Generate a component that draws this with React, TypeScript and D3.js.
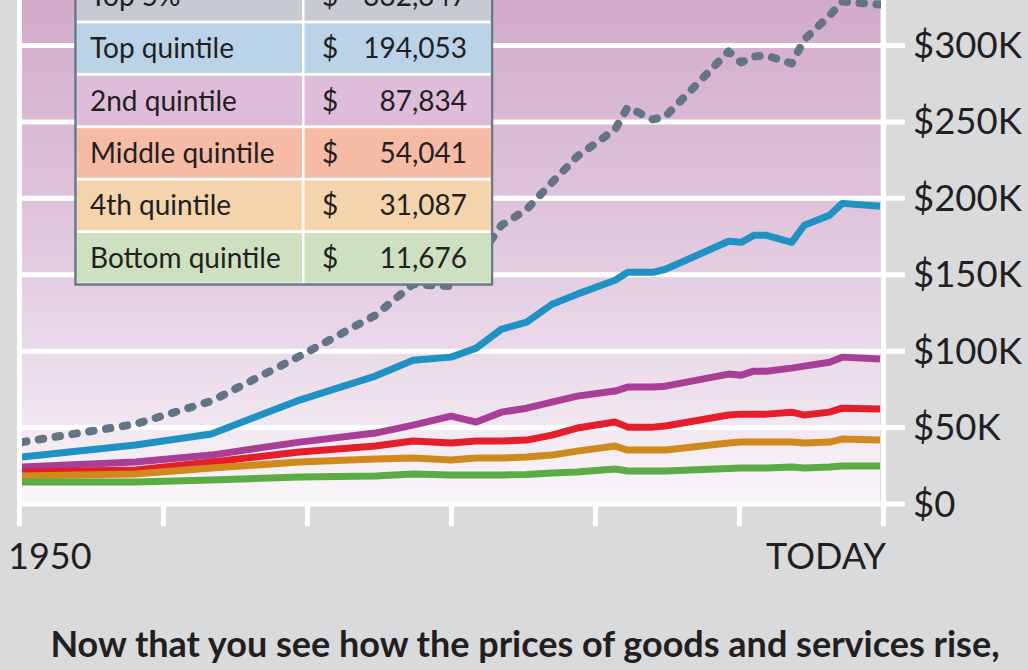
import React from "react";
import * as d3 from "d3";

// ---- data ----
const years = [1950, 1959, 1965, 1972, 1978, 1981, 1984, 1986, 1988, 1990, 1992, 1994, 1997, 1998, 2000, 2001, 2006, 2007, 2008, 2009, 2011, 2012, 2014, 2015, 2018];
const top5Pct = [40.5, 52.3, 67.3, 96.7, 123.5, 143.8, 142.5, 158.8, 182.4, 192.8, 210.4, 227.4, 245.1, 259.5, 251.6, 253.6, 296.1, 288.9, 292.8, 293.5, 288.2, 303.9, 319.6, 328.8, 326.8];
const topQuintile = [30.7, 38.6, 45.8, 68.0, 83.7, 94.1, 96.1, 102.0, 114.4, 119.0, 130.7, 137.3, 146.4, 151.6, 151.6, 153.6, 171.9, 171.2, 175.8, 175.8, 171.2, 182.4, 188.9, 196.7, 194.8];
const secondQuintile = [24.2, 27.5, 32.0, 40.5, 46.4, 51.6, 57.5, 53.6, 60.1, 62.7, 66.7, 70.6, 73.9, 76.5, 76.5, 77.1, 85.0, 84.3, 86.9, 86.9, 88.9, 90.2, 92.8, 96.1, 94.8];
const middleQuintile = [20.9, 22.2, 27.5, 34.0, 37.9, 41.2, 39.9, 41.2, 41.2, 41.8, 45.1, 49.7, 53.6, 50.3, 50.3, 51.0, 58.2, 58.8, 58.8, 58.8, 60.1, 58.2, 60.1, 62.7, 62.1];
const fourthQuintile = [18.3, 19.6, 23.5, 27.5, 29.4, 30.1, 28.8, 30.1, 30.1, 30.7, 32.0, 34.6, 37.9, 35.3, 35.3, 35.3, 39.9, 40.5, 40.5, 40.5, 40.5, 39.9, 40.5, 42.5, 41.8];
const bottomQuintile = [14.4, 14.4, 15.7, 17.6, 18.3, 19.6, 19.0, 19.0, 19.0, 19.3, 20.3, 20.9, 22.9, 21.6, 21.6, 21.6, 23.2, 23.5, 23.5, 23.5, 24.2, 23.5, 24.2, 24.8, 24.8];

const yTicks = [0, 50000, 100000, 150000, 200000, 250000, 300000];
const xTickLabels = ["1950", "", "", "", "", "", "TODAY"];

const tableLabels = ["Top 5%", "Top quintile", "2nd quintile", "Middle quintile", "4th quintile", "Bottom quintile"];
const tableValues = [332347, 194053, 87834, 54041, 31087, 11676];

const caption = "Now that you see how the prices of goods and services rise,";

// ---- styles ----
const seriesList = [
  { values: top5Pct, color: "#627485", dashed: true },
  { values: topQuintile, color: "#1f92c4", dashed: false },
  { values: secondQuintile, color: "#a83e95", dashed: false },
  { values: middleQuintile, color: "#e41f2b", dashed: false },
  { values: fourthQuintile, color: "#d08a1c", dashed: false },
  { values: bottomQuintile, color: "#5cac45", dashed: false },
];
const rowColors = ["#c7cad1", "#bad3e9", "#dfbcd9", "#f6bba5", "#f3d4ab", "#cde0bf"];

const W = 1028;
const H = 670;
const FONT = "Lato, 'Open Sans', sans-serif";
const TEXT = "#231f20";

export default function App() {
  const x = d3.scaleLinear().domain([1950, 2018]).range([22, 880]);
  const y = d3.scaleLinear().domain([0, 300000]).range([504, 45.5]);
  const xt = d3.scaleLinear().domain([0, 6]).range([19.5, 883.5]);

  const line = d3
    .line<number>()
    .x((_, i) => x(years[i]))
    .y((v) => y(v * 1000))
    .curve(d3.curveLinear);

  const fmt = d3.format(",");
  const rowTop = (i: number) => -29 + i * 52.4;
  const rowH = 49.6;

  return (
    <svg
      width={W}
      height={H}
      style={{ position: "absolute", left: 0, top: 0, display: "block" }}
    >
      <defs>
        <linearGradient id="bg" x1="0" y1="0" x2="0" y2="1">
          <stop offset="0%" stopColor="#d2abca" />
          <stop offset="45%" stopColor="#e0c6dd" />
          <stop offset="75%" stopColor="#ecdeeb" />
          <stop offset="100%" stopColor="#faf7fa" />
        </linearGradient>
      </defs>
      <rect x={0} y={0} width={W} height={H} fill="#d9dadc" />
      <rect x={22} y={0} width={x(2018) - 22} height={y(0)} fill="url(#bg)" />

      {/* gridlines */}
      {yTicks.map((t) => (
        <line key={t} x1={22} x2={905} y1={y(t)} y2={y(t)} stroke="#fff" strokeWidth={5} />
      ))}

      {/* series */}
      {seriesList.map((s, k) => (
        <path
          key={k}
          d={line(s.values) || ""}
          fill="none"
          stroke={s.color}
          strokeWidth={s.dashed ? 8 : 7}
          strokeLinejoin="round"
          strokeLinecap={s.dashed ? "round" : "butt"}
          strokeDasharray={s.dashed ? "4.5 12.5" : undefined}
        />
      ))}

      {/* x ticks and frame lines */}
      {xTickLabels.map((_, i) => (
        <line
          key={i}
          x1={xt(i)}
          x2={xt(i)}
          y1={i === 0 || i === 6 ? 0 : y(0)}
          y2={526}
          stroke="#fff"
          strokeWidth={5}
        />
      ))}

      {/* y labels */}
      {yTicks.map((t) => (
        <text
          key={t}
          x={913}
          y={y(t) + 12.5}
          fontFamily={FONT}
          fontSize={36.5}
          fill={TEXT}
        >
          {t === 0 ? "$0" : `$${t / 1000}K`}
        </text>
      ))}

      {/* x labels */}
      {xTickLabels.map((lbl, i) =>
        lbl ? (
          <text
            key={i}
            x={i === 0 ? 8 : 886}
            y={569}
            textAnchor={i === 0 ? "start" : "end"}
            fontFamily={FONT}
            fontSize={36}
            fill={TEXT}
          >
            {lbl}
          </text>
        ) : null
      )}

      {/* table */}
      <rect x={75.5} y={-40} width={416.5} height={324.5} fill="#fff" stroke="#66788a" strokeWidth={2.5} />
      {tableLabels.map((lbl, i) => (
        <g key={lbl}>
          <rect x={77} y={rowTop(i)} width={225} height={rowH} fill={rowColors[i]} />
          <rect x={304.5} y={rowTop(i)} width={186.5} height={rowH} fill={rowColors[i]} />
          <text x={90} y={rowTop(i) + rowH / 2 + 10} fontFamily={FONT} fontSize={28} fill={TEXT}>
            {lbl}
          </text>
          <text x={322} y={rowTop(i) + rowH / 2 + 10} fontFamily={FONT} fontSize={28} fill={TEXT}>
            $
          </text>
          <text
            x={467}
            y={rowTop(i) + rowH / 2 + 10}
            textAnchor="end"
            fontFamily={FONT}
            fontSize={28}
            fill={TEXT}
          >
            {fmt(tableValues[i])}
          </text>
        </g>
      ))}

      {/* caption */}
      <text
        x={525}
        y={657}
        textAnchor="middle"
        fontFamily={FONT}
        fontWeight={700}
        fontSize={36}
        fill={TEXT}
      >
        {caption}
      </text>
    </svg>
  );
}
